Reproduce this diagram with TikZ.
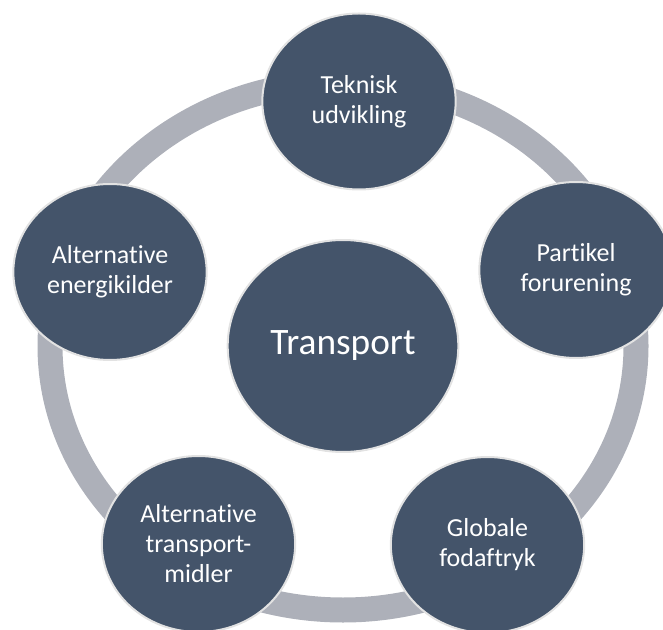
\documentclass[tikz,border=0pt]{standalone}
\usepackage{fontspec}
\setmainfont[Ligatures=NoCommon]{Carlito}
\usetikzlibrary{shapes.geometric}

\definecolor{slate}{RGB}{68,84,106}
\definecolor{ringgray}{RGB}{173,176,185}
\definecolor{rimgray}{RGB}{226,226,226}

\begin{document}
\begin{tikzpicture}[x=0.75pt,y=0.75pt,yscale=-1,
  bubble/.style={ellipse,fill=slate,draw=rimgray,line width=1.5pt,inner sep=0pt,
    text=white,align=center,font=\fontsize{19.5}{22.5}\selectfont,
    minimum width=145pt,minimum height=132pt},
  hub/.style={bubble,minimum width=173pt,minimum height=159pt,font=\fontsize{28}{32}\selectfont}]
\useasboundingbox (0,0) rectangle (663,630);

%Shape: Ring
\draw [color=ringgray,line width=18.75pt] (343,346) ellipse [x radius=293, y radius=264];

%Shape: Hub
\node [hub] (transport) at (343,346) {Transport};

%Shape: Outer bubbles
\node [bubble] (teknisk) at (359,101.5) {Teknisk\\udvikling};
\node [bubble] (partikel) at (576,270) {Partikel\\forurening};
\node [bubble] (globale) at (487.5,545) {Globale\\fodaftryk};
\node [bubble] (midler) at (198.5,544) {Alternative\\transport-\\midler};
\node [bubble] (energi) at (110,272) {Alternative\\energikilder};

\end{tikzpicture}
\end{document}
